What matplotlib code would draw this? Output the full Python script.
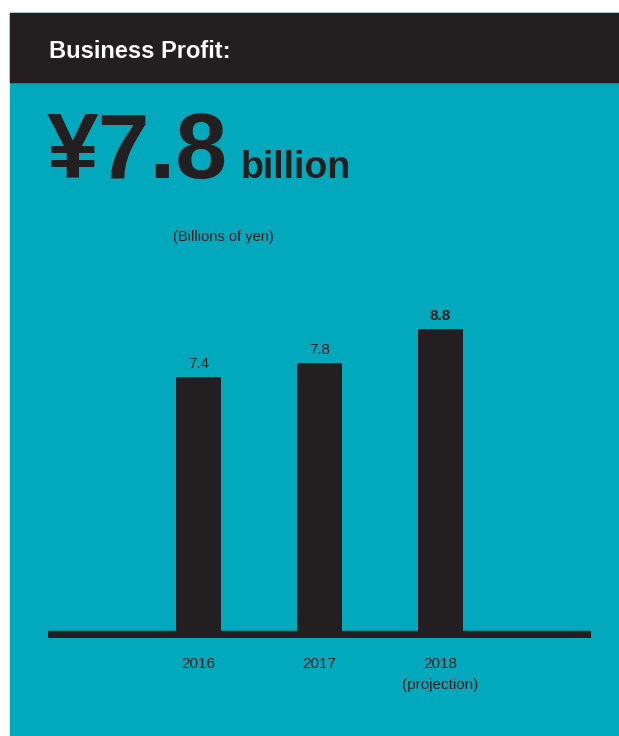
import matplotlib
matplotlib.use("Agg")
import matplotlib.pyplot as plt
from matplotlib.patches import Rectangle

plt.rcParams['font.family'] = ['Liberation Sans', 'DejaVu Sans']

# business profit, billions of yen
years = ['2016', '2017', '2018\n(projection)']
profit = [7.4, 7.8, 8.8]
value_labels = ['7.4', '7.8', '8.8']
headline = '¥7.8'

TEAL = '#02a9bd'
DARK = '#231f20'
W, H = 619, 736


def fx(x):
    return x / W


def fy(y):
    return 1 - y / H


fig = plt.figure(figsize=(W / 100, H / 100), dpi=100)
fig.patch.set_facecolor('white')

# teal panel with dark header strip
fig.patches.append(Rectangle((fx(10), fy(736)), fx(619) - fx(10), fy(13) - fy(736),
                             transform=fig.transFigure, color=TEAL, zorder=-2))
fig.patches.append(Rectangle((fx(10), fy(82)), fx(619) - fx(10), fy(13) - fy(82),
                             transform=fig.transFigure, color=DARK, zorder=-1))

fig.text(fx(49), fy(52), 'Business Profit:', color='white', fontsize=17,
         fontweight='bold', va='center', ha='left')
fig.text(fx(47), fy(178), headline, color=DARK, fontsize=67,
         fontweight='bold', va='baseline', ha='left')
fig.text(fx(241), fy(178), 'billion', color=DARK, fontsize=27,
         fontweight='bold', va='baseline', ha='left')
fig.text(fx(173), fy(237), '(Billions of yen)', color=DARK, fontsize=10.5,
         va='center', ha='left')

# axes: 34.3 px per billion yen, bars sit on y=631
scale = 34.3
ax_left, ax_right, ax_top, ax_bottom = 48, 591, 290, 638
ax = fig.add_axes([fx(ax_left), fy(ax_bottom),
                   fx(ax_right) - fx(ax_left), fy(ax_top) - fy(ax_bottom)])
ax.set_zorder(2)
ax.patch.set_visible(False)

x = list(range(len(profit)))
ax.bar(x, profit, width=0.372, color=DARK, zorder=2)
ax.axhspan(-7 / scale, 0, color=DARK, zorder=2)

for xi, v, lab in zip(x, profit, value_labels):
    bold = lab == value_labels[-1]
    ax.annotate(lab, (xi, v), xytext=(0, 6), textcoords='offset pixels',
                ha='center', va='bottom', fontsize=11,
                fontweight='bold' if bold else 'normal', color=DARK)

ax.set_xlim(-1.244, 3.244)
ax.set_ylim(-7 / scale, (631 - ax_top) / scale)
ax.set_xticks(x)
ax.set_xticklabels(years, fontsize=11, color=DARK, linespacing=1.6)
ax.tick_params(axis='x', length=0, pad=14)
ax.set_yticks([])
for s in ax.spines.values():
    s.set_visible(False)

fig.savefig('out.png', dpi=100)
